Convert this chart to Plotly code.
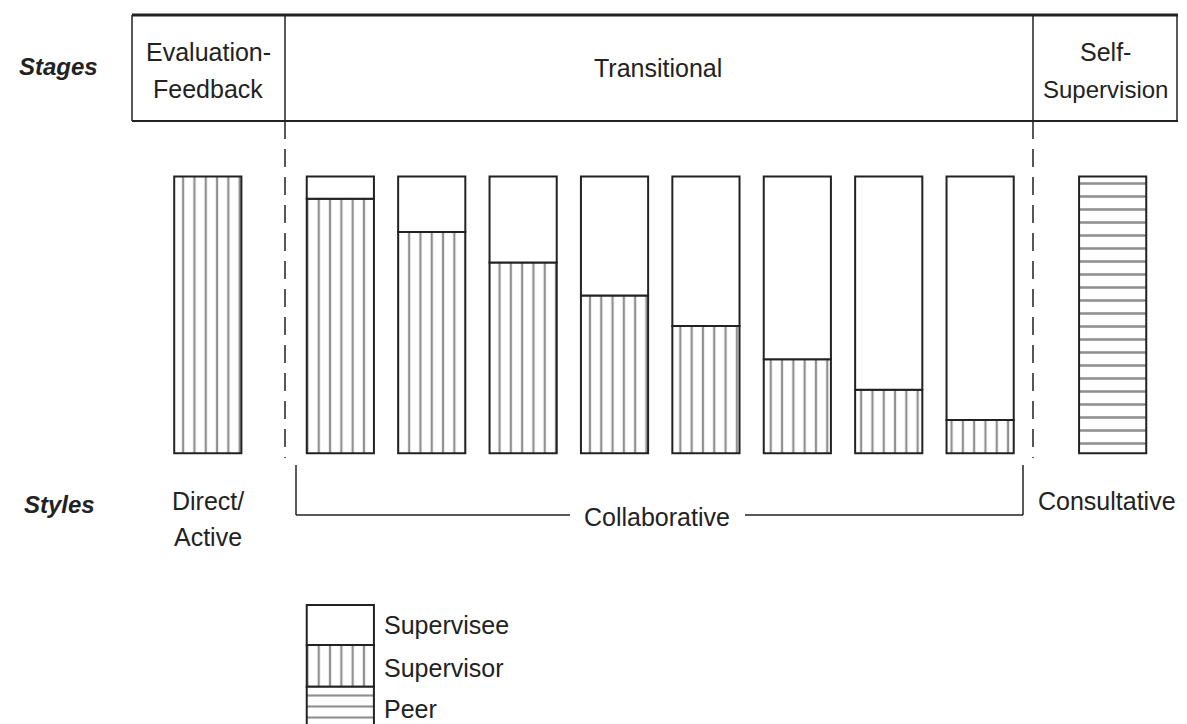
import plotly.graph_objects as go

# ---------------- data ----------------
stage_names = ["Evaluation-", "Feedback", "Transitional", "Self-", "Supervision"]
style_names = ["Direct/", "Active", "Collaborative", "Consultative"]
role_names = ["Supervisee", "Supervisor", "Peer"]
column_stage = [0, 1, 1, 1, 1, 1, 1, 1, 1, 2]          # stage each column belongs to
supervisor = [100, 92, 80, 69, 57, 46, 34, 23, 12, None]  # % share of supervisor
supervisee = [None, 8, 20, 31, 43, 54, 66, 77, 88, None]  # % share of supervisee
peer = [None, None, None, None, None, None, None, None, None, 100]  # % share of peer

# ---------------- layout helpers ----------------
OFF = 8                          # page body margin in the browser
W, H = 1187 - OFF, 724 - OFF
GAP = 0.45                      # extra spacing between stages (in column units)
X0_PX, UNIT_PX = 207.8 - OFF, 91.4   # pixel of first column centre, pixels per column
Y0_PX, PPU = 453.3 - OFF, 2.767      # pixel of y=0, pixels per %
BAR_W = 0.735

xpos = [i + GAP * s for i, s in enumerate(column_stage)]
xrange = [-X0_PX / UNIT_PX, (W - X0_PX) / UNIT_PX]
yrange = [-(H - Y0_PX) / PPU, Y0_PX / PPU]

def px(x):
    return (x - OFF) / W

def py(y):
    return 1 - (y - OFF) / H

LINE = "#222222"
FONT = "Liberation Sans, Arial, Helvetica, sans-serif"

fig = go.Figure()

def bar(x, y, base, shape, size, name):
    return go.Bar(
        x=x, y=y, base=base, width=BAR_W, name=name, showlegend=False,
        marker=dict(color="white", line=dict(color=LINE, width=2),
                    pattern=dict(shape=shape, size=size, solidity=0.2,
                                 fgcolor=LINE, bgcolor="white", fillmode="overlay")),
        hoverinfo="skip",
    )

sup_base = [0 if v is not None else None for v in supervisor]
see_base = [s if (v is not None) else None for s, v in zip(supervisor, supervisee)]
peer_base = [0 if v is not None else None for v in peer]

fig.add_trace(bar(xpos, supervisor, sup_base, "|", 11.3, role_names[1]))
fig.add_trace(bar(xpos, supervisee, see_base, "", 10, role_names[0]))
fig.add_trace(bar(xpos, peer, peer_base, "-", 13, role_names[2]))

# legend swatches (stacked key beneath the second column)
kx = [xpos[1]]
fig.add_trace(bar(kx, [14.5], [-69.3], "", 10, role_names[0]))
fig.add_trace(bar(kx, [15.1], [-84.4], "|", 11.3, role_names[1]))
fig.add_trace(bar(kx, [20.0], [-104.4], "-", 11, role_names[2]))

shapes = []
def seg(x1, y1, x2, y2, w=2, dash="solid"):
    shapes.append(dict(type="line", xref="paper", yref="paper",
                       x0=px(x1), y0=py(y1), x1=px(x2), y1=py(y2),
                       line=dict(color=LINE, width=w, dash=dash)))

# stage header box
seg(132, 15, 1178, 15, 3)
seg(132, 121, 1178, 121, 2)
seg(132, 15, 132, 121, 1.5)
seg(1177, 15, 1177, 121, 1.5)
seg(285, 15, 285, 121, 1.5)
seg(1033, 15, 1033, 121, 1.5)
# dashed stage separators
seg(285, 121, 285, 458, 1.5, "18px,10px")
seg(1033, 121, 1033, 458, 1.5, "18px,10px")
# collaborative bracket
seg(296, 465, 296, 515, 1.5)
seg(296, 515, 570, 515, 1.5)
seg(745, 515, 1023, 515, 1.5)
seg(1023, 515, 1023, 465, 1.5)

ann = []
def text(x, y, s, size=25, bold_italic=False, xanchor="center"):
    t = f"<b><i>{s}</i></b>" if bold_italic else s
    ann.append(dict(xref="paper", yref="paper", x=px(x), y=py(y), text=t,
                    showarrow=False, xanchor=xanchor, yanchor="middle",
                    font=dict(family=FONT, size=size, color="#222")))

text(58, 66, "Stages", 24, True)
text(59, 505, "Styles", 24, True)
text(208, 52, stage_names[0])
text(208, 89, stage_names[1])
text(658, 68, stage_names[2])
text(1105, 52, stage_names[3])
text(1105, 89, stage_names[4], 24)
text(208, 501, style_names[0])
text(208, 537, style_names[1])
text(657, 517, style_names[2])
text(1107, 501, style_names[3])
text(382, 625, role_names[0], xanchor="left")
text(382, 668, role_names[1], xanchor="left")
text(382, 709, role_names[2], xanchor="left")

fig.update_layout(
    width=W, height=H, autosize=False,
    margin=dict(l=0, r=0, t=0, b=0),
    paper_bgcolor="white", plot_bgcolor="white",
    barmode="overlay",
    xaxis=dict(range=xrange, visible=False, fixedrange=True),
    yaxis=dict(range=yrange, visible=False, fixedrange=True),
    shapes=shapes, annotations=ann,
    showlegend=False,
)

fig.write_html("out.html")
